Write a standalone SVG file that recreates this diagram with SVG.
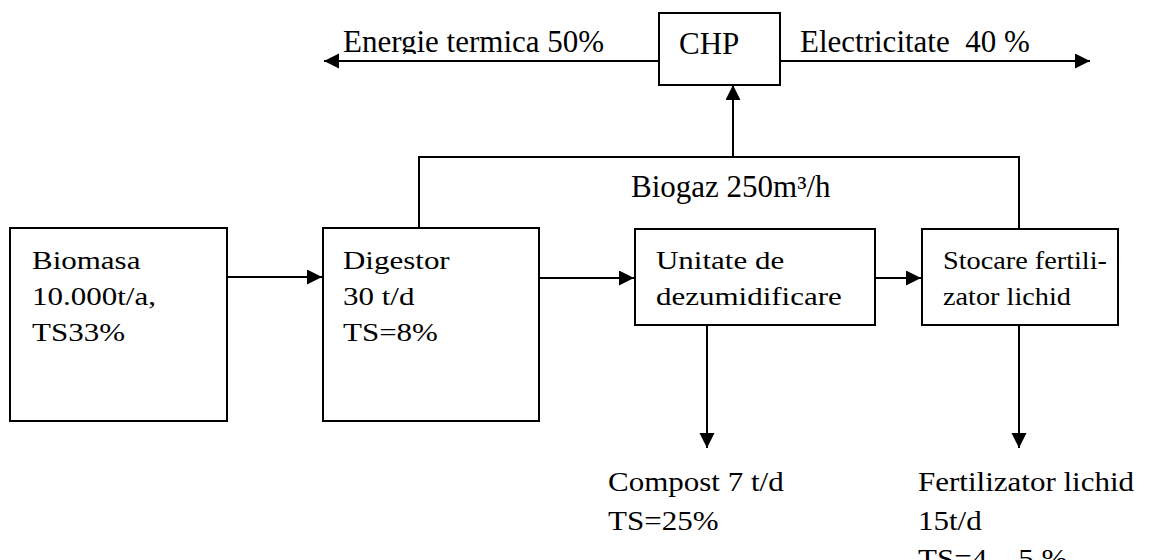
<svg xmlns="http://www.w3.org/2000/svg" width="1160" height="560" viewBox="0 0 1160 560">
<style>
  .box{fill:#fff;stroke:#000;stroke-width:2}
  .ln{fill:none;stroke:#000;stroke-width:2}
  .arr{marker-end:url(#ah)}
  text{font-family:"Liberation Serif","Times New Roman",serif;font-size:31px;fill:#000}
</style>
<defs>
  <marker id="ah" markerUnits="userSpaceOnUse" markerWidth="16" markerHeight="16" refX="15" refY="7.5" orient="auto">
    <path d="M0,0 L15,7.5 L0,15 z" fill="#000"/>
  </marker>
  <clipPath id="topclip"><rect x="0" y="0" width="1160" height="54"/></clipPath>
</defs>
<rect width="1160" height="560" fill="#fff"/>
<g id="connectors">
  <line class="ln arr" x1="659" y1="61" x2="324" y2="61"/>
  <line class="ln arr" x1="780" y1="61" x2="1090" y2="61"/>
  <polyline class="ln" points="419,228 419,157 1019,157 1019,229"/>
  <line class="ln arr" x1="733" y1="157" x2="733" y2="85"/>
  <line class="ln arr" x1="227" y1="277" x2="322" y2="277"/>
  <line class="ln arr" x1="539" y1="278" x2="634" y2="278"/>
  <line class="ln arr" x1="876" y1="278" x2="921" y2="278"/>
  <line class="ln arr" x1="707" y1="325" x2="707" y2="448"/>
  <line class="ln arr" x1="1019" y1="325" x2="1019" y2="448"/>
</g>
<g id="chp">
  <rect class="box" x="659" y="13" width="121" height="72"/>
  <text x="679" y="54">CHP</text>
</g>
<g id="biomasa">
  <rect class="box" x="10" y="228" width="217" height="193"/>
  <text transform="translate(32,269) scale(1,0.78)"><tspan x="0" y="0">Biomasa</tspan><tspan x="0" y="46.15">10.000t/a,</tspan><tspan x="0" y="92.3">TS33%</tspan></text>
</g>
<g id="digestor">
  <rect class="box" x="323" y="228" width="216" height="193"/>
  <text transform="translate(343,269) scale(1,0.78)"><tspan x="0" y="0">Digestor</tspan><tspan x="0" y="46.15">30 t/d</tspan><tspan x="0" y="92.3">TS=8%</tspan></text>
</g>
<g id="unitate">
  <rect class="box" x="635" y="229" width="240" height="96"/>
  <text transform="translate(656,269) scale(1,0.78)"><tspan x="0" y="0">Unitate de</tspan><tspan x="0" y="46.15">dezumidificare</tspan></text>
</g>
<g id="stocare">
  <rect class="box" x="922" y="229" width="196" height="96"/>
  <text transform="translate(943,269) scale(1,0.78)"><tspan x="0" y="0" textLength="164" lengthAdjust="spacingAndGlyphs">Stocare fertili-</tspan><tspan x="0" y="46.15" textLength="128" lengthAdjust="spacingAndGlyphs">zator lichid</tspan></text>
</g>
<g id="label-energie">
  <text x="343" y="52" clip-path="url(#topclip)">Energie termica 50%</text>
</g>
<g id="label-electricitate">
  <text x="800" y="52" xml:space="preserve">Electricitate  40 %</text>
</g>
<g id="label-biogaz">
  <text x="631" y="197">Biogaz 250m³/h</text>
</g>
<g id="compost">
  <text transform="translate(608,491) scale(1,0.86)"><tspan x="0" y="0">Compost 7 t/d</tspan><tspan x="0" y="45">TS=25%</tspan></text>
</g>
<g id="fertilizator">
  <text transform="translate(918,491) scale(1,0.86)"><tspan x="0" y="0">Fertilizator lichid</tspan><tspan x="0" y="45">15t/d</tspan><tspan x="0" y="89">TS=4 – 5 %</tspan></text>
</g>
</svg>
